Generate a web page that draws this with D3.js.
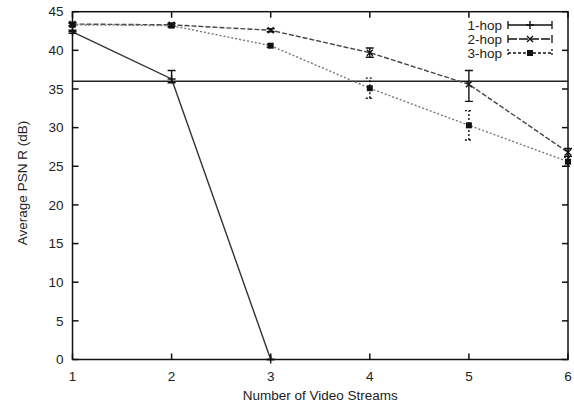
<!DOCTYPE html>
<html><head><meta charset="utf-8">
<script src="https://cdn.jsdelivr.net/npm/d3@7"></script>
<style>body{margin:0;background:#fff}svg{display:block}text{font-family:"Liberation Sans",Arial,sans-serif;fill:#222}</style>
</head><body><svg id="c" width="574" height="404"></svg>
<script>
const streams = [1, 2, 3, 4, 5, 6];
const xTicks = [1, 2, 3, 4, 5, 6];
const yTicks = [0, 5, 10, 15, 20, 25, 30, 35, 40, 45];
const seriesNames = ["1-hop", "2-hop", "3-hop"];
const hop1 = [42.4, 36.3, 0];
const hop1Lo = [42.2, 35.8, 0];
const hop1Hi = [42.6, 37.4, 0];
const hop2 = [43.4, 43.3, 42.6, 39.7, 35.6, 26.8];
const hop2Lo = [43.2, 43.1, 42.4, 39.1, 33.4, 26.3];
const hop2Hi = [43.6, 43.5, 42.8, 40.3, 37.4, 27.3];
const hop3 = [43.3, 43.2, 40.6, 35.1, 30.3, 25.6];
const hop3Lo = [43.1, 43.0, 40.4, 33.8, 28.4, 25.0];
const hop3Hi = [43.5, 43.4, 40.8, 36.4, 32.2, 26.2];
const threshold = 36;
const xTitle = "Number of Video Streams";
const yTitle = "Average PSN R (dB)";

const svg = d3.select("#c");
const L = 72.5, R = 568, T = 11.7, B = 359.5;
const x = d3.scaleLinear().domain([1, 6]).range([L, R]);
const y = d3.scaleLinear().domain([0, 45]).range([B, T]);

const series = [
  {name: seriesNames[0], v: hop1, lo: hop1Lo, hi: hop1Hi, dash: null, color: "#333", ebDash: null, legDash: null, marker: "plus"},
  {name: seriesNames[1], v: hop2, lo: hop2Lo, hi: hop2Hi, dash: "5,2", color: "#444", ebDash: null, legDash: "9,2", marker: "cross"},
  {name: seriesNames[2], v: hop3, lo: hop3Lo, hi: hop3Hi, dash: "2,2", color: "#777", ebDash: "2,2", legDash: "3,2", marker: "square"}
];

svg.append("line").attr("x1", x(1)).attr("x2", x(6)).attr("y1", y(threshold)).attr("y2", y(threshold))
  .attr("stroke", "#222").attr("stroke-width", 1.3);

function marker(g, type, cx, cy) {
  if (type === "plus") {
    g.append("path").attr("d", `M${cx-4},${cy}H${cx+4}M${cx},${cy-4}V${cy+4}`).attr("stroke", "#111").attr("stroke-width", 1.4);
  } else if (type === "cross") {
    g.append("path").attr("d", `M${cx-3},${cy-3}L${cx+3},${cy+3}M${cx-3},${cy+3}L${cx+3},${cy-3}`).attr("stroke", "#111").attr("stroke-width", 1.4);
  } else {
    g.append("rect").attr("x", cx-3).attr("y", cy-3).attr("width", 6).attr("height", 6).attr("fill", "#111");
  }
}

series.forEach(s => {
  const pts = s.v.map((v, i) => [streams[i], v, s.lo[i], s.hi[i]]);
  const line = d3.line().x(d => x(d[0])).y(d => y(d[1]));
  svg.append("path").attr("d", line(pts)).attr("fill", "none").attr("stroke", s.color)
    .attr("stroke-width", 1.4).attr("stroke-dasharray", s.dash);
  const g = svg.append("g");
  pts.forEach(d => {
    const cx = x(d[0]);
    g.append("path").attr("d", `M${cx},${y(d[2])}V${y(d[3])}M${cx-4},${y(d[2])}H${cx+4}M${cx-4},${y(d[3])}H${cx+4}`)
      .attr("stroke", "#111").attr("stroke-width", 1.4).attr("fill", "none").attr("stroke-dasharray", s.ebDash);
    marker(g, s.marker, cx, y(d[1]));
  });
});

svg.append("rect").attr("x", L).attr("y", T).attr("width", R - L).attr("height", B - T)
  .attr("fill", "none").attr("stroke", "#111").attr("stroke-width", 1.5);

const ax = svg.append("g");
xTicks.forEach(t => {
  ax.append("line").attr("x1", x(t)).attr("x2", x(t)).attr("y1", B).attr("y2", B - 6).attr("stroke", "#111").attr("stroke-width", 1.5);
  ax.append("line").attr("x1", x(t)).attr("x2", x(t)).attr("y1", T).attr("y2", T + 6).attr("stroke", "#111").attr("stroke-width", 1.5);
  ax.append("text").attr("x", x(t)).attr("y", B + 21).attr("text-anchor", "middle").attr("font-size", 13.5).text(t);
});
yTicks.forEach(t => {
  ax.append("line").attr("x1", L).attr("x2", L + 6).attr("y1", y(t)).attr("y2", y(t)).attr("stroke", "#111").attr("stroke-width", 1.5);
  ax.append("line").attr("x1", R).attr("x2", R - 6).attr("y1", y(t)).attr("y2", y(t)).attr("stroke", "#111").attr("stroke-width", 1.5);
  ax.append("text").attr("x", L - 9).attr("y", y(t)).attr("dy", "0.35em").attr("text-anchor", "end").attr("font-size", 13.5).text(t);
});

svg.append("text").attr("x", (L + R) / 2).attr("y", 400).attr("text-anchor", "middle").attr("font-size", 13.5).text(xTitle);
svg.append("text").attr("transform", `translate(27,${183}) rotate(-90)`).attr("text-anchor", "middle").attr("font-size", 13.5).text(yTitle);

const lg = svg.append("g");
series.forEach((s, i) => {
  const ly = 25 + i * 14;
  lg.append("text").attr("x", 502).attr("y", ly).attr("dy", "0.35em").attr("text-anchor", "end").attr("font-size", 13.5).text(s.name);
  lg.append("line").attr("x1", 508).attr("x2", 552).attr("y1", ly).attr("y2", ly).attr("stroke", "#111")
    .attr("stroke-width", 1.3).attr("stroke-dasharray", s.legDash);
  lg.append("path").attr("d", `M508,${ly-4}V${ly+4}M552,${ly-4}V${ly+4}`).attr("stroke", "#111").attr("stroke-width", 1.3)
    .attr("stroke-dasharray", s.ebDash);
  marker(lg, s.marker, 530, ly);
});
</script></body></html>
